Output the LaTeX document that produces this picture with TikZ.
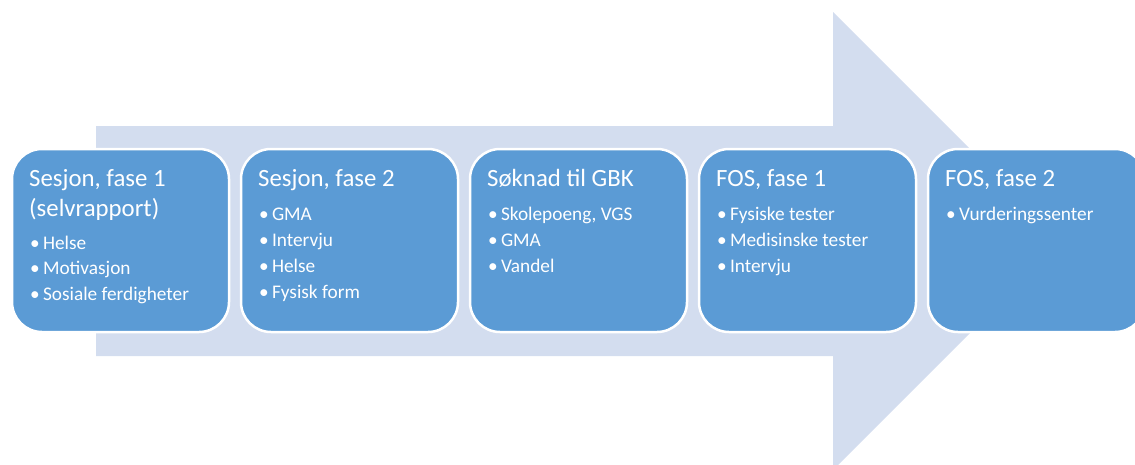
\documentclass[tikz,border=0pt]{standalone}
\usepackage{fontspec}
\setmainfont{Carlito}
\definecolor{arrowfill}{HTML}{D3DDEF}
\definecolor{boxfill}{HTML}{5B9BD5}
\tikzset{
  stagebox/.style={draw=white, line width=2.5pt, fill=boxfill, rounded corners=30pt},
  stagetitle/.style={anchor=base west, inner sep=0pt, text=white, font=\fontsize{24.8}{30}\selectfont},
  stageitem/.style={anchor=base west, inner sep=0pt, text=white, font=\fontsize{19.3}{25}\selectfont},
}
\begin{document}
\begin{tikzpicture}[x=1pt, y=-1pt]
\useasboundingbox (0,0) rectangle (1135,464);
\clip (0,0) rectangle (1135,464);

% background process arrow
\fill[arrowfill] (96,126) -- (833,126) -- (833,12) -- (1062,241)
  -- (833,470) -- (833,356) -- (96,356) -- cycle;

% stage boxes
\foreach \i/\x in {1/12, 2/241, 3/470, 4/699, 5/928} {
  \draw[stagebox] (\x,149) rectangle ++(217,183);
}

% stage 1
\node[stagetitle] (t1a) at (29,186) {Sesjon, fase 1};
\node[stagetitle] (t1b) at (29,216) {(selvrapport)};
\node[stageitem] (b1a) at (30,249) {•\,Helse};
\node[stageitem] (b1b) at (30,274.5) {•\,Motivasjon};
\node[stageitem] (b1c) at (30,300) {•\,Sosiale ferdigheter};

% stage 2
\node[stagetitle] (t2) at (258,186) {Sesjon, fase 2};
\node[stageitem] (b2a) at (259,220) {•\,GMA};
\node[stageitem] (b2b) at (259,246) {•\,Intervju};
\node[stageitem] (b2c) at (259,272) {•\,Helse};
\node[stageitem] (b2d) at (259,298) {•\,Fysisk form};

% stage 3
\node[stagetitle] (t3) at (487,186) {Søknad til GBK};
\node[stageitem] (b3a) at (488,220) {•\,Skolepoeng, VGS};
\node[stageitem] (b3b) at (488,246) {•\,GMA};
\node[stageitem] (b3c) at (488,272) {•\,Vandel};

% stage 4
\node[stagetitle] (t4) at (716,186) {FOS, fase 1};
\node[stageitem] (b4a) at (717,220) {•\,Fysiske tester};
\node[stageitem] (b4b) at (717,246) {•\,Medisinske tester};
\node[stageitem] (b4c) at (717,272) {•\,Intervju};

% stage 5
\node[stagetitle] (t5) at (945,186) {FOS, fase 2};
\node[stageitem] (b5a) at (946,220) {•\,Vurderingssenter};
\end{tikzpicture}
\end{document}
